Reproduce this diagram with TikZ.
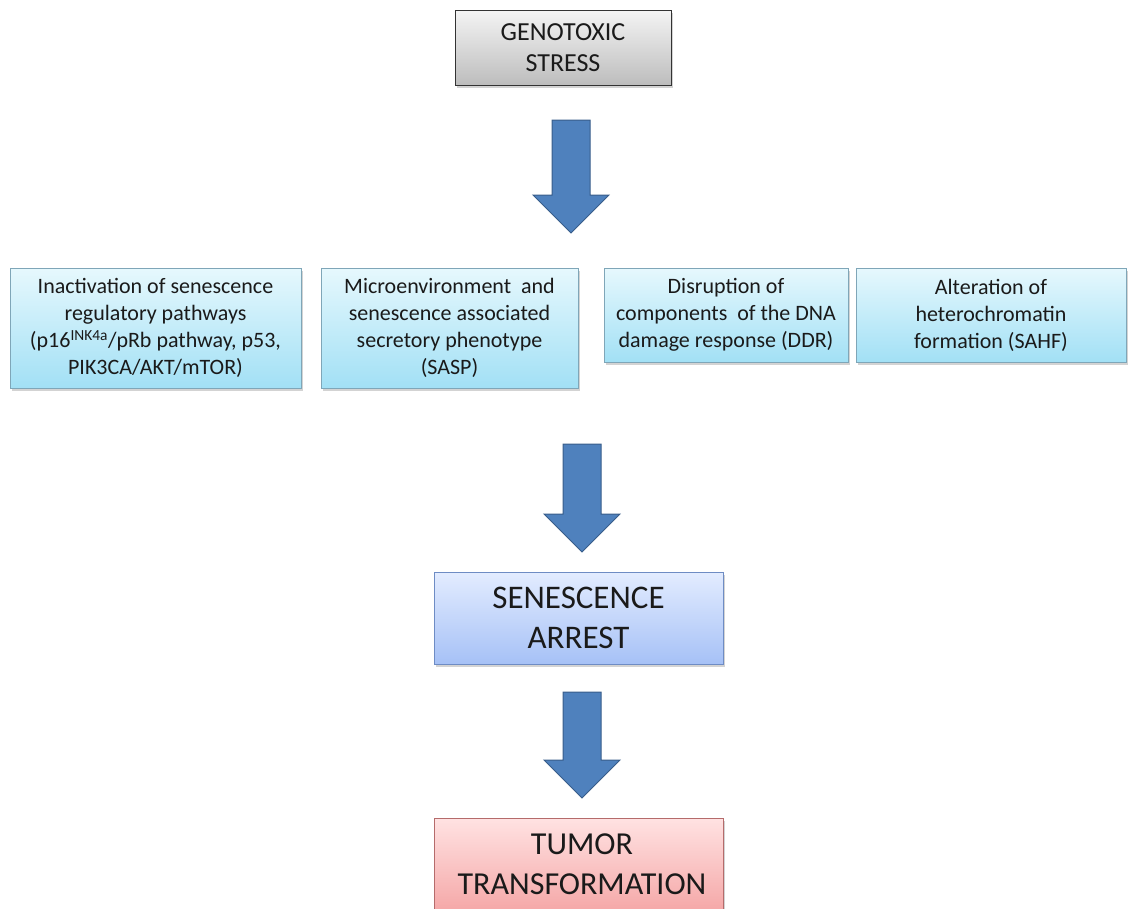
\documentclass[tikz,border=0pt]{standalone}
\usepackage{fontspec}
\setmainfont{Carlito}
\usetikzlibrary{shadows}
\definecolor{txt}{HTML}{1A1A1A}
\definecolor{arrowfill}{HTML}{4F81BD}
\definecolor{arrowdraw}{HTML}{385D8A}
\definecolor{graytop}{HTML}{F4F4F4}
\definecolor{graybot}{HTML}{BDBDBD}
\definecolor{cyantop}{HTML}{E6F8FD}
\definecolor{cyanbot}{HTML}{A2E0F5}
\definecolor{cyanline}{HTML}{7FA6B8}
\definecolor{bluetop}{HTML}{E3ECFF}
\definecolor{bluebot}{HTML}{A6C1F6}
\definecolor{blueline}{HTML}{6E8CC4}
\definecolor{redtop}{HTML}{FFE2E2}
\definecolor{redbot}{HTML}{F4A3A3}
\definecolor{redline}{HTML}{B56B6B}
\tikzset{
  box/.style={draw=#1, line width=0.8pt, align=center, text=txt, inner sep=0pt,
    drop shadow={opacity=0.35, shadow xshift=2pt, shadow yshift=-3pt}},
  graybox/.style={box=black!80, top color=graytop, bottom color=graybot},
  cyanbox/.style={box=cyanline, top color=cyantop, bottom color=cyanbot,
    font=\fontsize{22}{27}\selectfont},
  bluebox/.style={box=blueline, top color=bluetop, bottom color=bluebot},
  redbox/.style={box=redline, top color=redtop, bottom color=redbot},
  blockarrow/.style={fill=arrowfill, draw=arrowdraw, line width=1pt, line join=miter}
}
\newcommand{\blockarrow}[5]{% cx, top, base, tip, name
  \draw[blockarrow] (#1-19,#2) -- (#1+19,#2) -- (#1+19,#3) -- (#1+38,#3) -- (#1,#4)
    coordinate (#5) -- (#1-38,#3) -- (#1-19,#3) -- cycle;}
\begin{document}
\begin{tikzpicture}[x=1pt,y=-1pt]
\useasboundingbox (0,0) rectangle (1129,908);
\clip (0,0) rectangle (1129,908);
\node[graybox, minimum width=216pt, minimum height=75pt, font=\fontsize{26}{31}\selectfont]
  (geno) at (563,47.5) {GENOTOXIC\\STRESS};
\node[cyanbox, minimum width=291pt, minimum height=120pt] (b1) at (155.5,328)
  {Inactivation of senescence\\regulatory pathways\\(p16\textsuperscript{INK4a}/pRb pathway, p53,\\PIK3CA/AKT/mTOR)};
\node[cyanbox, minimum width=257pt, minimum height=120pt] (b2) at (449.5,328)
  {Microenvironment\ \ and\\senescence associated\\secretory phenotype\\(SASP)};
\node[cyanbox, minimum width=244pt, minimum height=94pt] (b3) at (726,315)
  {Disruption of\\components\ \ of the DNA\\damage response (DDR)};
\node[cyanbox, minimum width=270pt, minimum height=94pt] (b4) at (991,315)
  {Alteration of\\heterochromatin\\formation (SAHF)};
\node[bluebox, minimum width=289pt, minimum height=92pt, font=\fontsize{33}{40}\selectfont]
  (sen) at (578.5,618) {SENESCENCE\\ARREST};
\node[redbox, minimum width=289pt, minimum height=100pt, anchor=north] (tum) at (578.5,818) {};
\node[text=txt, font=\fontsize{32}{40}\selectfont, align=center] (tumtxt) at (582,864) {TUMOR\\TRANSFORMATION};
\blockarrow{571}{120}{195}{233}{a1}
\blockarrow{582}{444}{514}{552}{a2}
\blockarrow{582}{692}{760}{798}{a3}
\end{tikzpicture}
\end{document}
